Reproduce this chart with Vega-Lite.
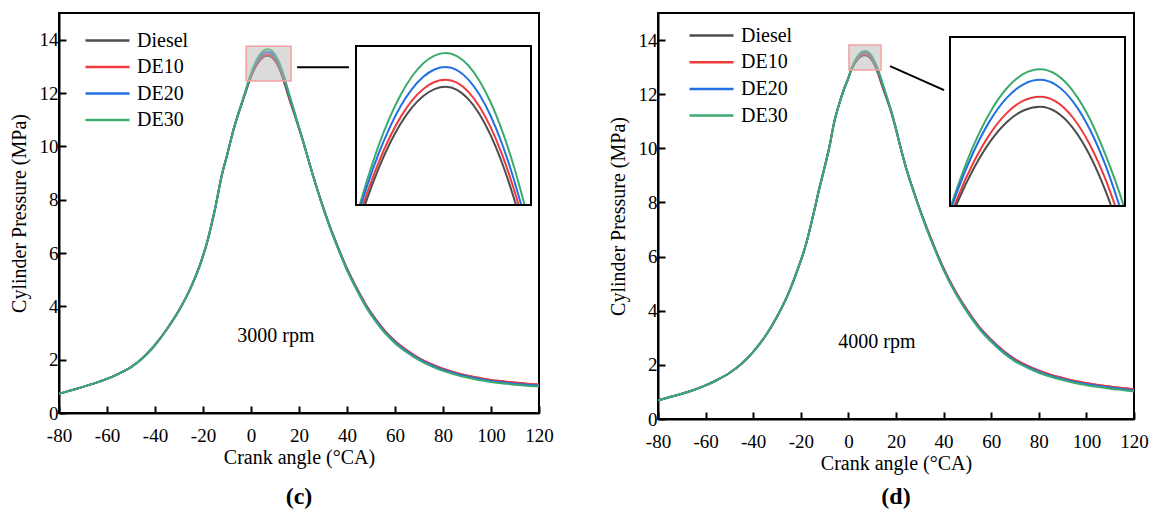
{
  "$schema": "https://vega.github.io/schema/vega-lite/v6.json",
  "padding": {"left": 8, "top": 12, "right": 0, "bottom": 0},
  "background": "white",
  "config": {
    "font": "Liberation Serif",
    "view": {"stroke": "black", "strokeWidth": 2},
    "axis": {"grid": false, "domainColor": "black", "domainWidth": 2, "tickColor": "black", "tickWidth": 2,
      "labelFont": "Liberation Serif", "labelFontSize": 19, "labelColor": "black",
      "titleFont": "Liberation Serif", "titleFontSize": 20, "titleFontWeight": "normal", "titleColor": "black"},
    "legend": {"labelFont": "Liberation Serif", "labelFontSize": 20, "labelColor": "black"},
    "title": {"font": "Liberation Serif", "fontSize": 24, "fontWeight": "bold", "color": "black"}
  },
  "datasets": {
    "c": [
      {"x": -80, "Diesel": 0.72, "DE10": 0.72, "DE20": 0.72, "DE30": 0.72},
      {"x": -75, "Diesel": 0.85, "DE10": 0.85, "DE20": 0.85, "DE30": 0.85},
      {"x": -70, "Diesel": 0.98, "DE10": 0.98, "DE20": 0.98, "DE30": 0.98},
      {"x": -65, "Diesel": 1.12, "DE10": 1.12, "DE20": 1.12, "DE30": 1.12},
      {"x": -60, "Diesel": 1.28, "DE10": 1.28, "DE20": 1.28, "DE30": 1.28},
      {"x": -55, "Diesel": 1.48, "DE10": 1.48, "DE20": 1.48, "DE30": 1.48},
      {"x": -50, "Diesel": 1.72, "DE10": 1.72, "DE20": 1.72, "DE30": 1.72},
      {"x": -45, "Diesel": 2.07, "DE10": 2.07, "DE20": 2.07, "DE30": 2.07},
      {"x": -40, "Diesel": 2.55, "DE10": 2.55, "DE20": 2.55, "DE30": 2.55},
      {"x": -35, "Diesel": 3.15, "DE10": 3.15, "DE20": 3.15, "DE30": 3.15},
      {"x": -30, "Diesel": 3.85, "DE10": 3.85, "DE20": 3.85, "DE30": 3.85},
      {"x": -25, "Diesel": 4.72, "DE10": 4.72, "DE20": 4.72, "DE30": 4.72},
      {"x": -21, "Diesel": 5.62, "DE10": 5.62, "DE20": 5.62, "DE30": 5.62},
      {"x": -18, "Diesel": 6.5, "DE10": 6.5, "DE20": 6.5, "DE30": 6.5},
      {"x": -15, "Diesel": 7.65, "DE10": 7.65, "DE20": 7.65, "DE30": 7.65},
      {"x": -12, "Diesel": 8.98, "DE10": 8.98, "DE20": 8.98, "DE30": 8.98},
      {"x": -10, "Diesel": 9.66, "DE10": 9.66, "DE20": 9.66, "DE30": 9.66},
      {"x": -7, "Diesel": 10.72, "DE10": 10.72, "DE20": 10.72, "DE30": 10.72},
      {"x": -4, "Diesel": 11.56, "DE10": 11.57, "DE20": 11.58, "DE30": 11.59},
      {"x": -2, "Diesel": 12.09, "DE10": 12.12, "DE20": 12.14, "DE30": 12.15},
      {"x": -1, "Diesel": 12.36, "DE10": 12.4, "DE20": 12.44, "DE30": 12.465},
      {"x": -0.67, "DE30": 12.56},
      {"x": -0.55, "DE20": 12.56},
      {"x": -0.37, "DE10": 12.56},
      {"x": -0.2, "Diesel": 12.56},
      {"x": 0, "Diesel": 12.606, "DE10": 12.647, "DE20": 12.698, "DE30": 12.74},
      {"x": 1, "Diesel": 12.817, "DE10": 12.86, "DE20": 12.921, "DE30": 12.979},
      {"x": 2, "Diesel": 12.995, "DE10": 13.04, "DE20": 13.11, "DE30": 13.181},
      {"x": 3, "Diesel": 13.141, "DE10": 13.188, "DE20": 13.265, "DE30": 13.346},
      {"x": 4, "Diesel": 13.254, "DE10": 13.303, "DE20": 13.385, "DE30": 13.475},
      {"x": 5, "Diesel": 13.335, "DE10": 13.384, "DE20": 13.471, "DE30": 13.567},
      {"x": 6, "Diesel": 13.384, "DE10": 13.434, "DE20": 13.523, "DE30": 13.622},
      {"x": 7, "Diesel": 13.4, "DE10": 13.45, "DE20": 13.54, "DE30": 13.64},
      {"x": 8, "Diesel": 13.379, "DE10": 13.429, "DE20": 13.518, "DE30": 13.618},
      {"x": 9, "Diesel": 13.314, "DE10": 13.366, "DE20": 13.453, "DE30": 13.553},
      {"x": 10, "Diesel": 13.207, "DE10": 13.26, "DE20": 13.345, "DE30": 13.443},
      {"x": 11, "Diesel": 13.057, "DE10": 13.113, "DE20": 13.194, "DE30": 13.29},
      {"x": 12, "Diesel": 12.864, "DE10": 12.923, "DE20": 12.999, "DE30": 13.094},
      {"x": 13, "Diesel": 12.628, "DE10": 12.692, "DE20": 12.761, "DE30": 12.853},
      {"x": 13.26, "Diesel": 12.56},
      {"x": 13.5, "DE10": 12.56},
      {"x": 13.73, "DE20": 12.56},
      {"x": 14, "Diesel": 12.35, "DE10": 12.42, "DE20": 12.48, "DE30": 12.569},
      {"x": 14.03, "DE30": 12.56},
      {"x": 15, "Diesel": 12.05, "DE10": 12.12, "DE20": 12.18, "DE30": 12.24},
      {"x": 16, "Diesel": 11.76, "DE10": 11.82, "DE20": 11.88, "DE30": 11.93},
      {"x": 18, "Diesel": 11.22, "DE10": 11.25, "DE20": 11.29, "DE30": 11.33},
      {"x": 20, "Diesel": 10.67, "DE10": 10.69, "DE20": 10.7, "DE30": 10.72},
      {"x": 22, "Diesel": 10.1, "DE10": 10.1, "DE20": 10.1, "DE30": 10.1},
      {"x": 24, "Diesel": 9.47, "DE10": 9.47, "DE20": 9.47, "DE30": 9.47},
      {"x": 27, "Diesel": 8.57, "DE10": 8.57, "DE20": 8.56, "DE30": 8.55},
      {"x": 30, "Diesel": 7.73, "DE10": 7.73, "DE20": 7.715, "DE30": 7.7},
      {"x": 33, "Diesel": 6.96, "DE10": 6.96, "DE20": 6.94, "DE30": 6.92},
      {"x": 36, "Diesel": 6.27, "DE10": 6.27, "DE20": 6.245, "DE30": 6.22},
      {"x": 40, "Diesel": 5.41, "DE10": 5.41, "DE20": 5.38, "DE30": 5.35},
      {"x": 44, "Diesel": 4.69, "DE10": 4.69, "DE20": 4.655, "DE30": 4.62},
      {"x": 48, "Diesel": 4.03, "DE10": 4.04, "DE20": 4.0, "DE30": 3.96},
      {"x": 52, "Diesel": 3.5, "DE10": 3.51, "DE20": 3.47, "DE30": 3.43},
      {"x": 56, "Diesel": 3.05, "DE10": 3.06, "DE20": 3.02, "DE30": 2.98},
      {"x": 60, "Diesel": 2.69, "DE10": 2.7, "DE20": 2.66, "DE30": 2.62},
      {"x": 65, "Diesel": 2.34, "DE10": 2.35, "DE20": 2.31, "DE30": 2.27},
      {"x": 70, "Diesel": 2.05, "DE10": 2.06, "DE20": 2.02, "DE30": 1.98},
      {"x": 75, "Diesel": 1.83, "DE10": 1.84, "DE20": 1.8, "DE30": 1.76},
      {"x": 80, "Diesel": 1.65, "DE10": 1.66, "DE20": 1.62, "DE30": 1.58},
      {"x": 85, "Diesel": 1.51, "DE10": 1.52, "DE20": 1.48, "DE30": 1.44},
      {"x": 90, "Diesel": 1.4, "DE10": 1.41, "DE20": 1.37, "DE30": 1.33},
      {"x": 95, "Diesel": 1.31, "DE10": 1.32, "DE20": 1.28, "DE30": 1.24},
      {"x": 100, "Diesel": 1.23, "DE10": 1.24, "DE20": 1.2, "DE30": 1.16},
      {"x": 105, "Diesel": 1.18, "DE10": 1.19, "DE20": 1.15, "DE30": 1.11},
      {"x": 110, "Diesel": 1.13, "DE10": 1.14, "DE20": 1.1, "DE30": 1.06},
      {"x": 115, "Diesel": 1.09, "DE10": 1.1, "DE20": 1.06, "DE30": 1.02},
      {"x": 120, "Diesel": 1.06, "DE10": 1.07, "DE20": 1.03, "DE30": 0.99}
    ],
    "d": [
      {"x": -80, "Diesel": 0.69, "DE10": 0.69, "DE20": 0.69, "DE30": 0.69},
      {"x": -75, "Diesel": 0.81, "DE10": 0.81, "DE20": 0.81, "DE30": 0.81},
      {"x": -70, "Diesel": 0.93, "DE10": 0.93, "DE20": 0.93, "DE30": 0.93},
      {"x": -65, "Diesel": 1.07, "DE10": 1.07, "DE20": 1.07, "DE30": 1.07},
      {"x": -60, "Diesel": 1.24, "DE10": 1.24, "DE20": 1.24, "DE30": 1.24},
      {"x": -55, "Diesel": 1.45, "DE10": 1.45, "DE20": 1.45, "DE30": 1.45},
      {"x": -50, "Diesel": 1.7, "DE10": 1.7, "DE20": 1.7, "DE30": 1.7},
      {"x": -45, "Diesel": 2.03, "DE10": 2.03, "DE20": 2.03, "DE30": 2.03},
      {"x": -40, "Diesel": 2.48, "DE10": 2.48, "DE20": 2.48, "DE30": 2.48},
      {"x": -35, "Diesel": 3.05, "DE10": 3.05, "DE20": 3.05, "DE30": 3.05},
      {"x": -30, "Diesel": 3.78, "DE10": 3.78, "DE20": 3.78, "DE30": 3.78},
      {"x": -25, "Diesel": 4.68, "DE10": 4.68, "DE20": 4.68, "DE30": 4.68},
      {"x": -21, "Diesel": 5.6, "DE10": 5.6, "DE20": 5.6, "DE30": 5.6},
      {"x": -18, "Diesel": 6.4, "DE10": 6.4, "DE20": 6.4, "DE30": 6.4},
      {"x": -15, "Diesel": 7.45, "DE10": 7.45, "DE20": 7.45, "DE30": 7.45},
      {"x": -12, "Diesel": 8.6, "DE10": 8.6, "DE20": 8.6, "DE30": 8.6},
      {"x": -10, "Diesel": 9.3, "DE10": 9.3, "DE20": 9.3, "DE30": 9.3},
      {"x": -8, "Diesel": 10.05, "DE10": 10.05, "DE20": 10.05, "DE30": 10.05},
      {"x": -6, "Diesel": 10.95, "DE10": 10.95, "DE20": 10.95, "DE30": 10.95},
      {"x": -4, "Diesel": 11.6, "DE10": 11.6, "DE20": 11.6, "DE30": 11.6},
      {"x": -2, "Diesel": 12.15, "DE10": 12.15, "DE20": 12.15, "DE30": 12.15},
      {"x": 0, "Diesel": 12.6, "DE10": 12.6, "DE20": 12.6, "DE30": 12.6},
      {"x": 1, "Diesel": 12.85, "DE10": 12.86, "DE20": 12.87, "DE30": 12.88},
      {"x": 1.61, "DE30": 13.016},
      {"x": 1.67, "DE20": 13.016},
      {"x": 1.81, "DE10": 13.016},
      {"x": 1.91, "Diesel": 13.016},
      {"x": 2, "Diesel": 13.031, "DE10": 13.05, "DE20": 13.081, "DE30": 13.097},
      {"x": 3, "Diesel": 13.178, "DE10": 13.206, "DE20": 13.251, "DE30": 13.278},
      {"x": 4, "Diesel": 13.293, "DE10": 13.327, "DE20": 13.384, "DE30": 13.419},
      {"x": 5, "Diesel": 13.375, "DE10": 13.414, "DE20": 13.479, "DE30": 13.52},
      {"x": 6, "Diesel": 13.424, "DE10": 13.466, "DE20": 13.536, "DE30": 13.58},
      {"x": 7, "Diesel": 13.44, "DE10": 13.483, "DE20": 13.555, "DE30": 13.6},
      {"x": 8, "Diesel": 13.417, "DE10": 13.461, "DE20": 13.532, "DE30": 13.577},
      {"x": 9, "Diesel": 13.349, "DE10": 13.393, "DE20": 13.462, "DE30": 13.507},
      {"x": 10, "Diesel": 13.235, "DE10": 13.281, "DE20": 13.346, "DE30": 13.391},
      {"x": 11, "Diesel": 13.075, "DE10": 13.124, "DE20": 13.184, "DE30": 13.229},
      {"x": 11.31, "Diesel": 13.016},
      {"x": 11.56, "DE10": 13.016},
      {"x": 11.82, "DE20": 13.016},
      {"x": 12, "Diesel": 12.87, "DE10": 12.92, "DE20": 12.975, "DE30": 13.032},
      {"x": 12.07, "DE30": 13.016},
      {"x": 13, "Diesel": 12.62, "DE10": 12.67, "DE20": 12.72, "DE30": 12.77},
      {"x": 14, "Diesel": 12.35, "DE10": 12.4, "DE20": 12.45, "DE30": 12.5},
      {"x": 16, "Diesel": 11.85, "DE10": 11.88, "DE20": 11.92, "DE30": 11.95},
      {"x": 18, "Diesel": 11.33, "DE10": 11.35, "DE20": 11.37, "DE30": 11.38},
      {"x": 20, "Diesel": 10.7, "DE10": 10.71, "DE20": 10.72, "DE30": 10.72},
      {"x": 22, "Diesel": 10.0, "DE10": 10.0, "DE20": 10.0, "DE30": 10.0},
      {"x": 24, "Diesel": 9.35, "DE10": 9.35, "DE20": 9.35, "DE30": 9.35},
      {"x": 27, "Diesel": 8.52, "DE10": 8.52, "DE20": 8.51, "DE30": 8.5},
      {"x": 30, "Diesel": 7.75, "DE10": 7.75, "DE20": 7.735, "DE30": 7.72},
      {"x": 33, "Diesel": 7.04, "DE10": 7.04, "DE20": 7.02, "DE30": 7.0},
      {"x": 36, "Diesel": 6.38, "DE10": 6.38, "DE20": 6.355, "DE30": 6.33},
      {"x": 40, "Diesel": 5.56, "DE10": 5.56, "DE20": 5.53, "DE30": 5.5},
      {"x": 44, "Diesel": 4.87, "DE10": 4.87, "DE20": 4.835, "DE30": 4.8},
      {"x": 48, "Diesel": 4.27, "DE10": 4.28, "DE20": 4.24, "DE30": 4.2},
      {"x": 52, "Diesel": 3.75, "DE10": 3.76, "DE20": 3.72, "DE30": 3.68},
      {"x": 56, "Diesel": 3.29, "DE10": 3.3, "DE20": 3.26, "DE30": 3.22},
      {"x": 60, "Diesel": 2.92, "DE10": 2.93, "DE20": 2.89, "DE30": 2.85},
      {"x": 65, "Diesel": 2.52, "DE10": 2.53, "DE20": 2.49, "DE30": 2.45},
      {"x": 70, "Diesel": 2.2, "DE10": 2.21, "DE20": 2.17, "DE30": 2.13},
      {"x": 75, "Diesel": 1.97, "DE10": 1.98, "DE20": 1.94, "DE30": 1.9},
      {"x": 80, "Diesel": 1.78, "DE10": 1.79, "DE20": 1.75, "DE30": 1.71},
      {"x": 85, "Diesel": 1.63, "DE10": 1.64, "DE20": 1.6, "DE30": 1.56},
      {"x": 90, "Diesel": 1.51, "DE10": 1.52, "DE20": 1.48, "DE30": 1.44},
      {"x": 95, "Diesel": 1.4, "DE10": 1.41, "DE20": 1.37, "DE30": 1.33},
      {"x": 100, "Diesel": 1.32, "DE10": 1.33, "DE20": 1.29, "DE30": 1.25},
      {"x": 105, "Diesel": 1.25, "DE10": 1.26, "DE20": 1.22, "DE30": 1.18},
      {"x": 110, "Diesel": 1.19, "DE10": 1.2, "DE20": 1.16, "DE30": 1.12},
      {"x": 115, "Diesel": 1.14, "DE10": 1.15, "DE20": 1.11, "DE30": 1.07},
      {"x": 120, "Diesel": 1.09, "DE10": 1.1, "DE20": 1.06, "DE30": 1.02}
    ]
  },
  "spacing": 52,
  "resolve": {"scale": {"color": "independent"}},
  "hconcat": [
    {
      "width": 480, "height": 400,
      "title": {"text": "(c)", "orient": "bottom", "offset": 18},
      "resolve": {"scale": {"x": "independent", "y": "independent"}},
      "layer": [
        {
          "layer": [
            {
              "data": {"name": "c"},
              "transform": [{"fold": ["Diesel", "DE10", "DE20", "DE30"], "as": ["fuel", "p"]}, {"filter": "isValid(datum.p)"}],
              "mark": {"type": "line", "strokeWidth": 2, "clip": true, "interpolate": "monotone"},
              "encoding": {
                "x": {"field": "x", "type": "quantitative", "scale": {"domain": [-80, 120], "nice": false, "zero": false},
                  "axis": {"title": "Crank angle (°CA)", "values": [-80, -70, -60, -50, -40, -30, -20, -10, 0, 10, 20, 30, 40, 50, 60, 70, 80, 90, 100, 110, 120],
                    "labelExpr": "datum.value % 20 === 0 ? '' + datum.value : ''",
                    "tickSize": {"condition": {"test": "datum.value % 20 === 0", "value": -7}, "value": -4},
                    "labelPadding": 20, "titlePadding": 2, "labelFlush": false}},
                "y": {"field": "p", "type": "quantitative", "scale": {"domain": [0, 15], "nice": false},
                  "axis": {"title": "Cylinder Pressure (MPa)", "values": [0, 1, 2, 3, 4, 5, 6, 7, 8, 9, 10, 11, 12, 13, 14],
                    "labelExpr": "datum.value % 2 === 0 ? '' + datum.value : ''",
                    "tickSize": {"condition": {"test": "datum.value % 2 === 0", "value": -7}, "value": -4},
                    "labelPadding": 8, "titlePadding": 10}},
                "color": {"field": "fuel", "type": "nominal",
                  "scale": {"domain": ["Diesel", "DE10", "DE20", "DE30"], "range": ["#4d4d4d", "#ef3a3d", "#2270e3", "#3caa6d"]},
                  "legend": {"orient": "none", "legendX": 36, "legendY": 15, "title": null, "symbolType": "M-2,0H2", "symbolSize": 484,
                    "symbolStrokeWidth": 2.5, "labelOffset": 17, "rowPadding": 3.5, "padding": 0}}
              }
            },
            {
              "data": {"values": [{}]},
              "mark": {"type": "rect", "fill": "#b8b8b8", "fillOpacity": 0.5, "stroke": "#f4a0a0", "strokeWidth": 1.5},
              "encoding": {"x": {"datum": -2}, "x2": {"datum": 16.7}, "y": {"datum": 12.45}, "y2": {"datum": 13.75}}
            },
            {
              "data": {"values": [{}]},
              "mark": {"type": "rule", "strokeWidth": 2, "color": "black"},
              "encoding": {"x": {"datum": 19.2}, "x2": {"datum": 40.8}, "y": {"datum": 12.97}, "y2": {"datum": 12.97}}
            },
            {
              "data": {"values": [{}]},
              "mark": {"type": "text", "fontSize": 20, "font": "Liberation Serif", "color": "black"},
              "encoding": {"x": {"datum": 10.4}, "y": {"datum": 2.89}, "text": {"value": "3000 rpm"}}
            }
          ]
        },
        {
          "layer": [
            {
              "data": {"values": [{}]},
              "mark": {"type": "rect", "fill": "white", "stroke": null},
              "encoding": {"x": {"datum": -1, "scale": {"domain": [-1, 14.6], "range": [297, 472], "nice": false, "zero": false}, "axis": null},
                "x2": {"datum": 14.6}, "y": {"datum": 12.56, "scale": {"domain": [12.56, 13.69], "range": [192, 33], "nice": false, "zero": false}, "axis": null}, "y2": {"datum": 13.69}}
            },
            {
              "data": {"name": "c"},
              "transform": [{"fold": ["Diesel", "DE10", "DE20", "DE30"], "as": ["fuel", "p"]}, {"filter": "isValid(datum.p) && datum.p >= 12.559"}],
              "mark": {"type": "line", "strokeWidth": 2, "interpolate": "monotone"},
              "encoding": {
                "x": {"field": "x", "type": "quantitative", "axis": null},
                "y": {"field": "p", "type": "quantitative", "axis": null},
                "color": {"field": "fuel", "type": "nominal", "legend": null}
              }
            },
            {
              "data": {"values": [{}]},
              "mark": {"type": "rect", "fillOpacity": 0, "stroke": "black", "strokeWidth": 2},
              "encoding": {"x": {"datum": -1}, "x2": {"datum": 14.6}, "y": {"datum": 12.56}, "y2": {"datum": 13.69}}
            }
          ]
        }
      ]
    },
    {
      "width": 476, "height": 406,
      "title": {"text": "(d)", "orient": "bottom", "offset": 12},
      "resolve": {"scale": {"x": "independent", "y": "independent"}},
      "layer": [
        {
          "layer": [
            {
              "data": {"name": "d"},
              "transform": [{"fold": ["Diesel", "DE10", "DE20", "DE30"], "as": ["fuel", "p"]}, {"filter": "isValid(datum.p)"}],
              "mark": {"type": "line", "strokeWidth": 2, "clip": true, "interpolate": "monotone"},
              "encoding": {
                "x": {"field": "x", "type": "quantitative", "scale": {"domain": [-80, 120], "nice": false, "zero": false},
                  "axis": {"title": "Crank angle (°CA)", "values": [-80, -70, -60, -50, -40, -30, -20, -10, 0, 10, 20, 30, 40, 50, 60, 70, 80, 90, 100, 110, 120],
                    "labelExpr": "datum.value % 20 === 0 ? '' + datum.value : ''",
                    "tickSize": {"condition": {"test": "datum.value % 20 === 0", "value": -7}, "value": -4},
                    "labelPadding": 20, "titlePadding": 2, "labelFlush": false}},
                "y": {"field": "p", "type": "quantitative", "scale": {"domain": [0, 15], "nice": false},
                  "axis": {"title": "Cylinder Pressure (MPa)", "values": [0, 1, 2, 3, 4, 5, 6, 7, 8, 9, 10, 11, 12, 13, 14],
                    "labelExpr": "datum.value % 2 === 0 ? '' + datum.value : ''",
                    "tickSize": {"condition": {"test": "datum.value % 2 === 0", "value": -7}, "value": -4},
                    "labelPadding": 8, "titlePadding": 10}},
                "color": {"field": "fuel", "type": "nominal",
                  "scale": {"domain": ["Diesel", "DE10", "DE20", "DE30"], "range": ["#4d4d4d", "#ef3a3d", "#2270e3", "#3caa6d"]},
                  "legend": {"orient": "none", "legendX": 41, "legendY": 10, "title": null, "symbolType": "M-2,0H2", "symbolSize": 484,
                    "symbolStrokeWidth": 2.5, "labelOffset": 17, "rowPadding": 3.7, "padding": 0}}
              }
            },
            {
              "data": {"values": [{}]},
              "mark": {"type": "rect", "fill": "#b8b8b8", "fillOpacity": 0.5, "stroke": "#f4a0a0", "strokeWidth": 1.5},
              "encoding": {"x": {"datum": 0.25}, "x2": {"datum": 13.7}, "y": {"datum": 12.89}, "y2": {"datum": 13.82}}
            },
            {
              "data": {"values": [{}]},
              "mark": {"type": "rule", "strokeWidth": 2, "color": "black"},
              "encoding": {"x": {"datum": 17.5}, "x2": {"datum": 40.2}, "y": {"datum": 13.04}, "y2": {"datum": 12.15}}
            },
            {
              "data": {"values": [{}]},
              "mark": {"type": "text", "fontSize": 20, "font": "Liberation Serif", "color": "black"},
              "encoding": {"x": {"datum": 12.0}, "y": {"datum": 2.86}, "text": {"value": "4000 rpm"}}
            }
          ]
        },
        {
          "layer": [
            {
              "data": {"values": [{}]},
              "mark": {"type": "rect", "fill": "white", "stroke": null},
              "encoding": {"x": {"datum": 1.55, "scale": {"domain": [1.55, 12.15], "range": [292, 467], "nice": false, "zero": false}, "axis": null},
                "x2": {"datum": 12.15}, "y": {"datum": 13.016, "scale": {"domain": [13.016, 13.738], "range": [193, 24], "nice": false, "zero": false}, "axis": null}, "y2": {"datum": 13.738}}
            },
            {
              "data": {"name": "d"},
              "transform": [{"fold": ["Diesel", "DE10", "DE20", "DE30"], "as": ["fuel", "p"]}, {"filter": "isValid(datum.p) && datum.p >= 13.015"}],
              "mark": {"type": "line", "strokeWidth": 2, "interpolate": "monotone"},
              "encoding": {
                "x": {"field": "x", "type": "quantitative", "axis": null},
                "y": {"field": "p", "type": "quantitative", "axis": null},
                "color": {"field": "fuel", "type": "nominal", "legend": null}
              }
            },
            {
              "data": {"values": [{}]},
              "mark": {"type": "rect", "fillOpacity": 0, "stroke": "black", "strokeWidth": 2},
              "encoding": {"x": {"datum": 1.55}, "x2": {"datum": 12.15}, "y": {"datum": 13.016}, "y2": {"datum": 13.738}}
            }
          ]
        }
      ]
    }
  ]
}
